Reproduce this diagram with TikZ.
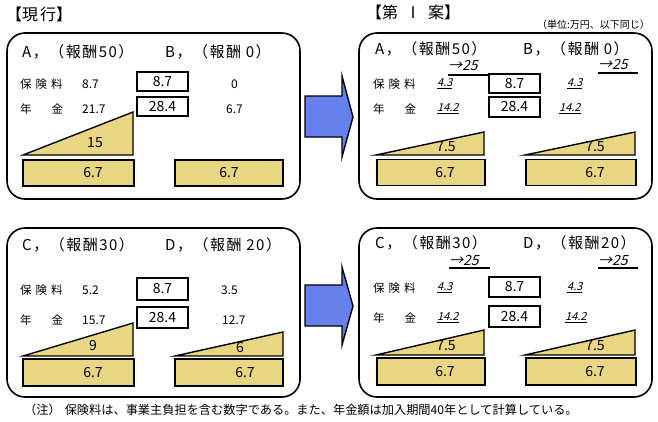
\documentclass[tikz,border=0pt]{standalone}
\usepackage{fontspec}
\setmainfont{Noto Sans CJK JP}
\newfontfamily\slantfont[FakeSlant=0.25]{Noto Sans CJK JP}
\newfontfamily\headfont[LetterSpace=10]{Noto Sans CJK JP}
\definecolor{wheat}{RGB}{233,214,130}
\definecolor{arrowblue}{RGB}{102,128,238}
\begin{document}
\begin{tikzpicture}[x=1pt,y=-1pt,
  panel/.style={line width=1.6pt,rounded corners=18pt},
  valbox/.style={draw,line width=1.4pt,inner sep=0pt,font=\fontsize{14}{14}\selectfont},
  bar/.style={draw,fill=wheat,line width=1.4pt,inner sep=0pt,font=\fontsize{14}{14}\selectfont},
  wedge/.style={draw,fill=wheat,line width=1.4pt,line join=miter},
  bigarrow/.style={draw,fill=arrowblue,line width=1.4pt},
  head/.style={font=\fontsize{15}{15}\selectfont\headfont,anchor=west,inner sep=0pt},
  lbl/.style={font=\fontsize{11.5}{11.5}\selectfont,anchor=west,inner sep=0pt},
  num/.style={font=\fontsize{12}{12}\selectfont,anchor=west,inner sep=0pt},
  newnum/.style={font=\fontsize{11}{11}\selectfont\slantfont,anchor=west,inner sep=0pt},
  newfee/.style={font=\fontsize{14}{14}\selectfont\slantfont,anchor=west,inner sep=0pt}]
\useasboundingbox (0,0) rectangle (658,421);
% titles
\node[anchor=west,inner sep=0pt,font=\fontsize{16}{16}\selectfont] (genko) at (6,14) {【現\kern2pt 行】};
\node[anchor=west,inner sep=0pt,font=\fontsize{16}{16}\selectfont] (daiichi) at (366,12) {【第\kern7pt Ⅰ\kern7pt 案】};
\node[anchor=east,inner sep=0pt,font=\fontsize{10}{10}\selectfont] (tani) at (650,25) {（単位:万円、以下同じ）};
% panels
\draw[panel] (7,33) rectangle (300,199);
\draw[panel] (359,33) rectangle (652,199);
\draw[panel] (7,228) rectangle (300,397);
\draw[panel] (359,228) rectangle (652,397);
% arrows
\draw[bigarrow] (305,96) -- (342,96) -- (342,76) -- (353,117) -- (342,157) -- (342,137) -- (305,137) -- cycle;
\draw[bigarrow] (305,285) -- (342,285) -- (342,267) -- (353,306) -- (342,345) -- (342,326) -- (305,326) -- cycle;

% genko A, B
\node[head] (hA) at (22,52) {A，（報酬50）};
\node[head] (hB) at (165,52) {B，（報酬 0）};
\node[lbl] (hokenAB) at (20,84) {保\kern4pt 険\kern4pt 料};
\node[lbl] (nenkinAB) at (20,109) {年\kern20pt 金};
\node[num] (feeA) at (82,84) {8.7};
\node[num] (penA) at (82,109) {21.7};
\node[num] (feeB) at (231,84) {0};
\node[num] (penB) at (226,109) {6.7};
\node[valbox,minimum width=51pt,minimum height=19pt] (totfeeAB) at (162.5,81.5) {8.7};
\node[valbox,minimum width=51pt,minimum height=19pt] (totpenAB) at (162.5,106.5) {28.4};
\draw[wedge] (23,155) -- (133,112) -- (133,155) -- cycle;
\node[font=\fontsize{14}{14}\selectfont] (wA) at (95,143) {15};
\node[bar,minimum width=111pt,minimum height=26pt] (baseA) at (78.5,173) {\kern29pt 6.7};
\node[bar,minimum width=108pt,minimum height=26pt] (baseB) at (229,173) {6.7};

% daiichi A, B
\node[head] (nA) at (375,49) {A，（報酬50）};
\node[head] (nB) at (523,49) {B，（報酬 0）};
\node[newfee] (toA) at (448,66) {→25};
\node[newfee] (toB) at (598,65) {→25};
\draw[line width=1.6pt] (448,75) -- (490,75);
\draw[line width=1.6pt] (598,73) -- (638,73);
\node[lbl] (hokenNAB) at (373,84) {保\kern4pt 険\kern4pt 料};
\node[lbl] (nenkinNAB) at (373,109) {年\kern20pt 金};
\node[newnum] (nfeeA) at (437,84) {\underline{4.3}};
\node[newnum] (npenA) at (437,109) {\underline{14.2}};
\node[newnum] (nfeeB) at (567,84) {\underline{4.3}};
\node[newnum] (npenB) at (559,109) {\underline{14.2}};
\node[valbox,minimum width=51pt,minimum height=19pt] (ntotfeeAB) at (514.5,83.5) {8.7};
\node[valbox,minimum width=51pt,minimum height=20pt] (ntotpenAB) at (514.5,107) {28.4};
\draw[wedge] (376,155) -- (484,132) -- (484,155) -- cycle;
\draw[wedge] (525,155) -- (635,132) -- (635,155) -- cycle;
\node[font=\fontsize{14}{14}\selectfont] (nwA) at (446,147) {7.5};
\node[font=\fontsize{14}{14}\selectfont] (nwB) at (595,147) {7.5};
\node[bar,minimum width=108pt,minimum height=26pt] (nbaseA) at (431,172.5) {\kern28pt 6.7};
\node[bar,minimum width=110pt,minimum height=26pt] (nbaseB) at (581,172.5) {\kern28pt 6.7};

% genko C, D
\node[head] (hC) at (22,245) {C，（報酬30）};
\node[head] (hD) at (165,245) {D，（報酬 20）};
\node[lbl] (hokenCD) at (20,290) {保\kern4pt 険\kern4pt 料};
\node[lbl] (nenkinCD) at (20,320) {年\kern20pt 金};
\node[num] (feeC) at (82,290) {5.2};
\node[num] (penC) at (82,320) {15.7};
\node[num] (feeD) at (221,290) {3.5};
\node[num] (penD) at (222,320) {12.7};
\node[valbox,minimum width=51pt,minimum height=22pt] (totfeeCD) at (162.5,289) {8.7};
\node[valbox,minimum width=51pt,minimum height=21pt] (totpenCD) at (162.5,317.5) {28.4};
\draw[wedge] (23,356) -- (133,323) -- (133,356) -- cycle;
\draw[wedge] (175,356) -- (283,332) -- (283,356) -- cycle;
\node[font=\fontsize{14}{14}\selectfont] (wC) at (93,346) {9};
\node[font=\fontsize{14}{14}\selectfont] (wD) at (240,348) {6};
\node[bar,minimum width=111pt,minimum height=27pt] (baseC) at (78.5,372.5) {\kern29pt 6.7};
\node[bar,minimum width=108pt,minimum height=27pt] (baseD) at (229,372.5) {\kern32pt 6.7};

% daiichi C, D
\node[head] (nC) at (375,243) {C，（報酬30）};
\node[head] (nD) at (523,243) {D，（報酬20）};
\node[newfee] (toC) at (449,261) {→25};
\node[newfee] (toD) at (598,261) {→25};
\draw[line width=1.6pt] (449,268) -- (490,268);
\draw[line width=1.6pt] (598,268) -- (638,268);
\node[lbl] (hokenNCD) at (373,288) {保\kern4pt 険\kern4pt 料};
\node[lbl] (nenkinNCD) at (373,318) {年\kern20pt 金};
\node[newnum] (nfeeC) at (437,288) {\underline{4.3}};
\node[newnum] (npenC) at (437,318) {\underline{14.2}};
\node[newnum] (nfeeD) at (567,288) {\underline{4.3}};
\node[newnum] (npenD) at (565,318) {\underline{14.2}};
\node[valbox,minimum width=51pt,minimum height=20pt] (ntotfeeCD) at (514.5,287) {8.7};
\node[valbox,minimum width=51pt,minimum height=21pt] (ntotpenCD) at (514.5,316.5) {28.4};
\draw[wedge] (376,355) -- (484,330) -- (484,355) -- cycle;
\draw[wedge] (525,355) -- (635,330) -- (635,355) -- cycle;
\node[font=\fontsize{14}{14}\selectfont] (nwC) at (446,346) {7.5};
\node[font=\fontsize{14}{14}\selectfont] (nwD) at (595,346) {7.5};
\node[bar,minimum width=108pt,minimum height=27pt] (nbaseC) at (431,371.5) {\kern28pt 6.7};
\node[bar,minimum width=110pt,minimum height=27pt] (nbaseD) at (581,371.5) {\kern28pt 6.7};

% note
\node[anchor=west,inner sep=0pt,font=\fontsize{12.2}{12.2}\selectfont] (chu) at (24,410) {（注）\kern4pt 保険料は、事業主負担を含む数字である。また、年金額は加入期間40年として計算している。};
\end{tikzpicture}
\end{document}
